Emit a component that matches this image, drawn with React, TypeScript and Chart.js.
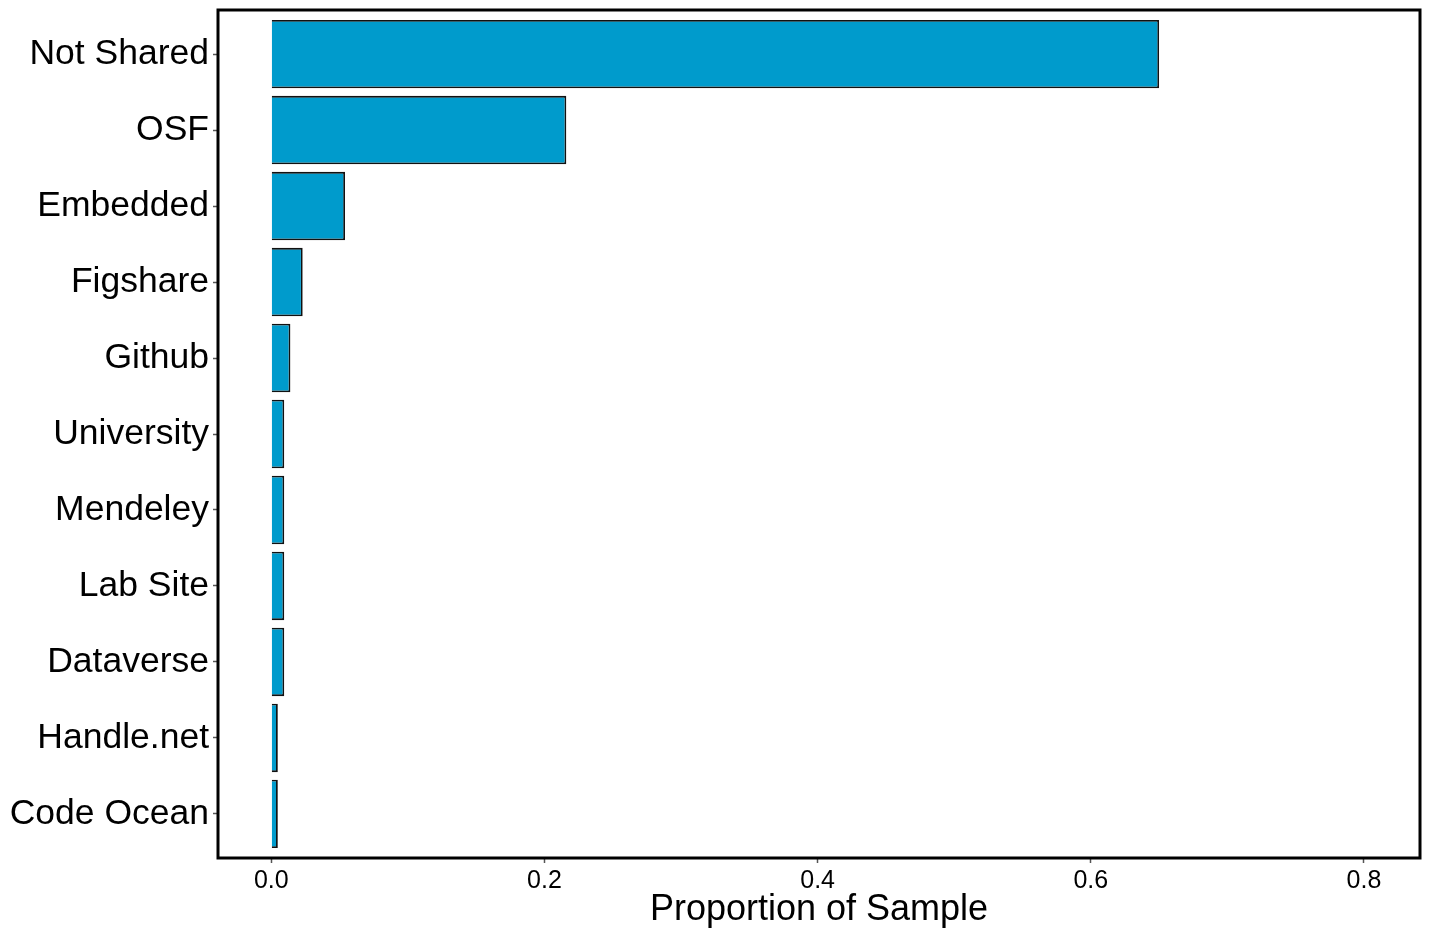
import React, { useEffect, useRef } from "react";
import { Chart, registerables } from "chart.js";

Chart.register(...registerables);

const categories = [
  "Not Shared",
  "OSF",
  "Embedded",
  "Figshare",
  "Github",
  "University",
  "Mendeley",
  "Lab Site",
  "Dataverse",
  "Handle.net",
  "Code Ocean",
];

const proportions = [0.65, 0.216, 0.054, 0.023, 0.014, 0.0095, 0.0095, 0.0095, 0.0095, 0.0048, 0.0048];

const xTickValues = [0, 0.2, 0.4, 0.6, 0.8];

const FONT = "'Liberation Sans', Arial, Helvetica, sans-serif";

const framePlugin = {
  id: "frame",
  afterDraw(chart: any) {
    const { ctx, chartArea } = chart;
    ctx.save();
    ctx.strokeStyle = "#000";
    ctx.lineWidth = 3;
    ctx.strokeRect(chartArea.left, chartArea.top, chartArea.right - chartArea.left, chartArea.bottom - chartArea.top);
    ctx.restore();
  },
};

export default function App() {
  const ref = useRef<HTMLCanvasElement | null>(null);

  useEffect(() => {
    document.body.style.margin = "0";
    const canvas = ref.current;
    if (!canvas) return;
    const chart = new Chart(canvas, {
      type: "bar",
      data: {
        datasets: [
          {
            label: "Proportion",
            data: proportions.map((v, i) => ({ x: v, y: i })),
            backgroundColor: "#009BCC",
            borderColor: "#111",
            borderWidth: 1.8,
            barPercentage: 0.9,
            categoryPercentage: 1,
          },
        ],
      },
      options: {
        indexAxis: "y",
        animation: false,
        responsive: false,
        devicePixelRatio: 1,
        layout: { padding: { top: 10, right: 10, left: 0, bottom: 0 } },
        plugins: { legend: { display: false }, tooltip: { enabled: false } },
        scales: {
          y: {
            type: "linear",
            reverse: true,
            offset: false,
            min: -0.58,
            max: categories.length - 1 + 0.58,
            afterFit: (s: any) => {
              s.width = 218;
              s.paddingTop = 0;
              s.paddingBottom = 0;
            },
            afterBuildTicks: (s: any) => {
              s.ticks = categories.map((_, i) => ({ value: i }));
            },
            ticks: {
              stepSize: 1,
              includeBounds: false,
              autoSkip: false,
              padding: 4,
              color: "#000",
              font: { family: FONT, size: 35.5 },
              callback: (v: any) => categories[Math.round(Number(v))] ?? "",
            },
            grid: {
              offset: false,
              drawOnChartArea: false,
              drawTicks: true,
              tickLength: 5,
              tickColor: "#555",
              tickWidth: 1.5,
            },
            border: { display: false },
          },
          x: {
            type: "linear",
            offset: false,
            min: -0.039,
            max: 0.841,
            afterFit: (s: any) => {
              s.height = 86;
              s.paddingLeft = 0;
              s.paddingRight = 0;
            },
            afterBuildTicks: (s: any) => {
              s.ticks = xTickValues.map((v) => ({ value: v }));
            },
            ticks: {
              stepSize: 0.2,
              includeBounds: false,
              padding: 3,
              color: "#000",
              maxRotation: 0,
              font: { family: FONT, size: 25 },
              callback: (v: any) => Number(v).toFixed(1),
            },
            grid: {
              offset: false,
              drawOnChartArea: false,
              drawTicks: true,
              tickLength: 5,
              tickColor: "#555",
              tickWidth: 1.5,
            },
            border: { display: false },
            title: {
              display: true,
              text: "Proportion of Sample",
              color: "#000",
              font: { family: FONT, size: 36 },
              padding: { top: 0, bottom: 12 },
            },
          },
        },
      },
      plugins: [framePlugin],
    });
    return () => chart.destroy();
  }, []);

  return (
    <div style={{ position: "absolute", left: 0, top: 0, width: 1430, height: 944, background: "#fff" }}>
      <canvas ref={ref} width={1430} height={944} />
    </div>
  );
}
